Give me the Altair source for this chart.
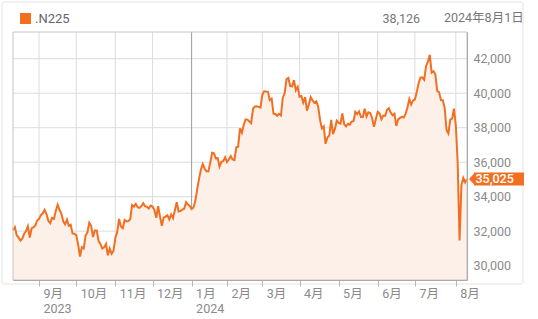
import altair as alt
import pandas as pd

# ---------------- data (Nikkei 225 daily closes) ----------------
holidays = ["2023-09-18", "2023-10-09", "2023-11-03", "2023-11-23",
            "2024-01-01", "2024-01-02", "2024-01-03", "2024-01-08",
            "2024-02-12", "2024-02-23", "2024-03-20", "2024-04-29",
            "2024-05-03", "2024-05-06", "2024-07-15"]
first_day = "2023-08-14"
last_day = "2024-08-09"

aug23 = [32059, 32238, 31766, 31626, 31450, 31565, 31856, 32010, 32287, 31624,
         32169, 32227, 32333, 32619]
sep23 = [32710, 32939, 33036, 33241, 32991, 32606, 32467, 32776, 32707, 33168,
         33533, 33242, 33023, 32571, 32402, 32678, 32315, 32371, 31872, 31857]
oct23 = [31759, 31237, 30526, 31075, 30994, 31746, 31936, 32494, 32315, 31659,
         32040, 32042, 31430, 31259, 30999, 31062, 31269, 30601, 30991, 30696, 30858]
nov23 = [31601, 31949, 32708, 32271, 32166, 32646, 32568, 32585, 32695, 33519,
         33424, 33585, 33388, 33354, 33451, 33625, 33447, 33408, 33321, 33486]
dec23 = [33431, 33231, 32775, 33445, 32858, 32307, 32791, 32843, 32926, 32686,
         32970, 32758, 33219, 33675, 33141, 33169, 33254, 33305, 33681, 33540, 33464]
jan24 = [33288, 33377, 33763, 34441, 35049, 35577, 35901, 35619, 35477, 35466,
         35963, 36546, 36517, 36226, 36236, 35751, 36026, 36065, 36286]
feb24 = [36011, 36158, 36354, 36160, 36119, 36863, 36897, 37963, 37703, 38157,
         38487, 38470, 38363, 38262, 39098, 39233, 39239, 39208, 39166]
mar24 = [39910, 40109, 40097, 40090, 39598, 39688, 38820, 38797, 38695, 38807,
         38707, 39740, 40003, 40815, 40888, 40414, 40398, 40762, 40168, 40369]
apr24 = [39803, 39838, 39451, 39773, 38992, 39347, 39773, 39581, 39442, 39523,
         39232, 38471, 37961, 38079, 37068, 37438, 37552, 38460, 37628, 37934, 38405]
may24 = [38274, 38236, 38835, 38202, 38073, 38229, 38179, 38356, 38385, 38920,
         38787, 38946, 38617, 38617, 39103, 38646, 38900, 38855, 38556, 38054, 38487]
jun24 = [38923, 38837, 38490, 38703, 38683, 39038, 39134, 38876, 38720, 38814,
         38102, 38482, 38570, 38633, 38596, 38804, 39173, 39667, 39341, 39583]
jul24 = [39631, 40074, 40580, 40913, 40912, 40780, 41580, 41831, 42224, 41190,
         41275, 41097, 40126, 40063, 39599, 39594, 39154, 37869, 37667, 38468,
         38525, 39101]
aug24 = [38126, 35909, 31458, 34675, 35089, 34831, 35025]

month_labels = ["9月", "10月", "11月", "12月", "1月", "2月", "3月", "4月",
                "5月", "6月", "7月", "8月"]
year_labels = ["2023", "", "", "", "2024", "", "", "", "", "", "", ""]
y_ticks = [30000, 32000, 34000, 36000, 38000, 40000, 42000]
y_domain = [29170, 43550]

symbol = ".N225"
header_value = "38,126"
header_date = "2024年8月1日"

# ---------------- build tables ----------------
closes = aug23 + sep23 + oct23 + nov23 + dec23 + jan24 + feb24 + mar24 + apr24 + may24 + jun24 + jul24 + aug24
days = [d for d in pd.bdate_range(first_day, last_day) if d.strftime("%Y-%m-%d") not in holidays]
assert len(days) == len(closes), (len(days), len(closes))
df = pd.DataFrame({"i": list(range(len(days))),
                   "date": [d.strftime("%Y-%m-%d") for d in days],
                   "close": closes})

tick_idx = [i for i in range(1, len(days)) if days[i].month != days[i - 1].month]
jan_idx = tick_idx[year_labels.index("2024")]
xgrid_df = pd.DataFrame({"i": tick_idx, "year_start": [1 if y else 0 for y in year_labels]})
xgrid_df.loc[0, "year_start"] = 0  # first label carries the year but is not a year boundary
ygrid_df = pd.DataFrame({"close": y_ticks})

parts = []
for idx, m, yv in zip(tick_idx, month_labels, year_labels):
    lab = f"['{m}', '{yv}']" if yv else f"'{m}'"
    parts.append(f"datum.value == {idx} ? {lab} : ")
label_expr = "".join(parts) + "''"

last_df = df.tail(1)

# ---------------- style ----------------
W, H = 454, 248
ORANGE = "#f26f21"
FILL = "#fdf0e8"
FONT = "Roboto, 'Noto Sans CJK JP', sans-serif"
LABEL = "#8a8a8a"
GRID = "#dcdcdc"

x_enc = alt.X("i:Q",
              scale=alt.Scale(domain=[0, len(days) - 1], nice=False, zero=False),
              axis=alt.Axis(values=tick_idx, labelExpr=label_expr, title=None,
                            grid=False, tickColor="#b8b8b8", tickSize=6,
                            domainColor="#aaaaaa",
                            labelAlign="left", labelOffset=4, labelPadding=1,
                            labelBaseline="top", labelLineHeight=15, labelFlush=False,
                            labelOverlap=False, labelColor=LABEL, labelFontSize=12.5,
                            labelFont=FONT, zindex=1))
y_enc = alt.Y("close:Q",
              scale=alt.Scale(domain=y_domain, nice=False, zero=False),
              axis=alt.Axis(orient="right", values=y_ticks, format=",",
                            labelExpr="format(datum.value, ',')", title=None,
                            grid=False, ticks=False, domainColor="#aaaaaa",
                            labelPadding=6, labelColor=LABEL, labelFontSize=12.5,
                            labelFont=FONT, labelOverlap=False, labelFlush=False,
                            zindex=1))

one = pd.DataFrame({"k": [0]})

ygrid = alt.Chart(ygrid_df).mark_rule(color=GRID, strokeWidth=1).encode(y=y_enc)
xgrid = alt.Chart(xgrid_df).mark_rule(strokeWidth=1).encode(
    x=x_enc,
    color=alt.condition("datum.year_start == 1", alt.value("#9a9a9a"), alt.value(GRID)))

base = alt.Chart(df)
area = base.mark_area(color=FILL, opacity=1).encode(x=x_enc, y=y_enc, y2=alt.datum(y_domain[0]))
line = base.mark_line(color=ORANGE, strokeWidth=2).encode(x=x_enc, y=y_enc)

plot_border = alt.Chart(one).mark_rect(fill="white", fillOpacity=0, stroke="#c4c4c4",
                                       strokeWidth=1).encode(
    x=alt.value(0), x2=alt.value(W), y=alt.value(0), y2=alt.value(H))
frame = alt.Chart(one).mark_rect(fill="white", fillOpacity=0, stroke="#e3e3e3",
                                 strokeWidth=1, cornerRadius=2).encode(
    x=alt.value(-11), x2=alt.value(W + 56), y=alt.value(-30), y2=alt.value(H + 4))

badge_rule = alt.Chart(last_df).mark_rule(color=ORANGE, strokeWidth=13, strokeCap="butt").encode(
    x=alt.value(W + 7), x2=alt.value(W + 57), y=y_enc)
badge_tri = alt.Chart(last_df).mark_point(shape="M-0.46,0L0.46,-1L0.46,1Z", size=169,
                                          filled=True, color=ORANGE, opacity=1).encode(
    x=alt.value(W + 5), y=y_enc)
badge_text = alt.Chart(last_df).mark_text(align="left", baseline="middle", color="white",
                                          fontSize=12.5, fontWeight=500, font=FONT).encode(
    x=alt.value(W + 8.5), y=y_enc, text=alt.Text("close:Q", format=","))

legend_sq = alt.Chart(one).mark_square(size=121, color=ORANGE, opacity=1).encode(
    x=alt.value(12.5), y=alt.value(-13.5))
legend_txt = alt.Chart(one).mark_text(align="left", baseline="middle", color="#666666",
                                      fontSize=13, font=FONT).encode(
    x=alt.value(22), y=alt.value(-13), text=alt.value(symbol))
val_txt = alt.Chart(one).mark_text(align="right", baseline="middle", color="#777777",
                                   fontSize=12.5, font=FONT).encode(
    x=alt.value(407), y=alt.value(-13), text=alt.value(header_value))
date_txt = alt.Chart(one).mark_text(align="left", baseline="middle", color="#777777",
                                    fontSize=12.5, font=FONT).encode(
    x=alt.value(431), y=alt.value(-14), text=alt.value(header_date))

chart = alt.layer(frame, ygrid, xgrid, area, line, plot_border,
                  badge_rule, badge_tri, badge_text,
                  legend_sq, legend_txt, val_txt, date_txt).properties(
    width=W, height=H,
    autosize=alt.AutoSizeParams(type="none"),
    padding={"left": 13, "top": 32, "right": 71, "bottom": 39},
    background="white",
).configure_view(stroke=None)

chart.save("out.html", embed_options={"renderer": "svg", "actions": False})
